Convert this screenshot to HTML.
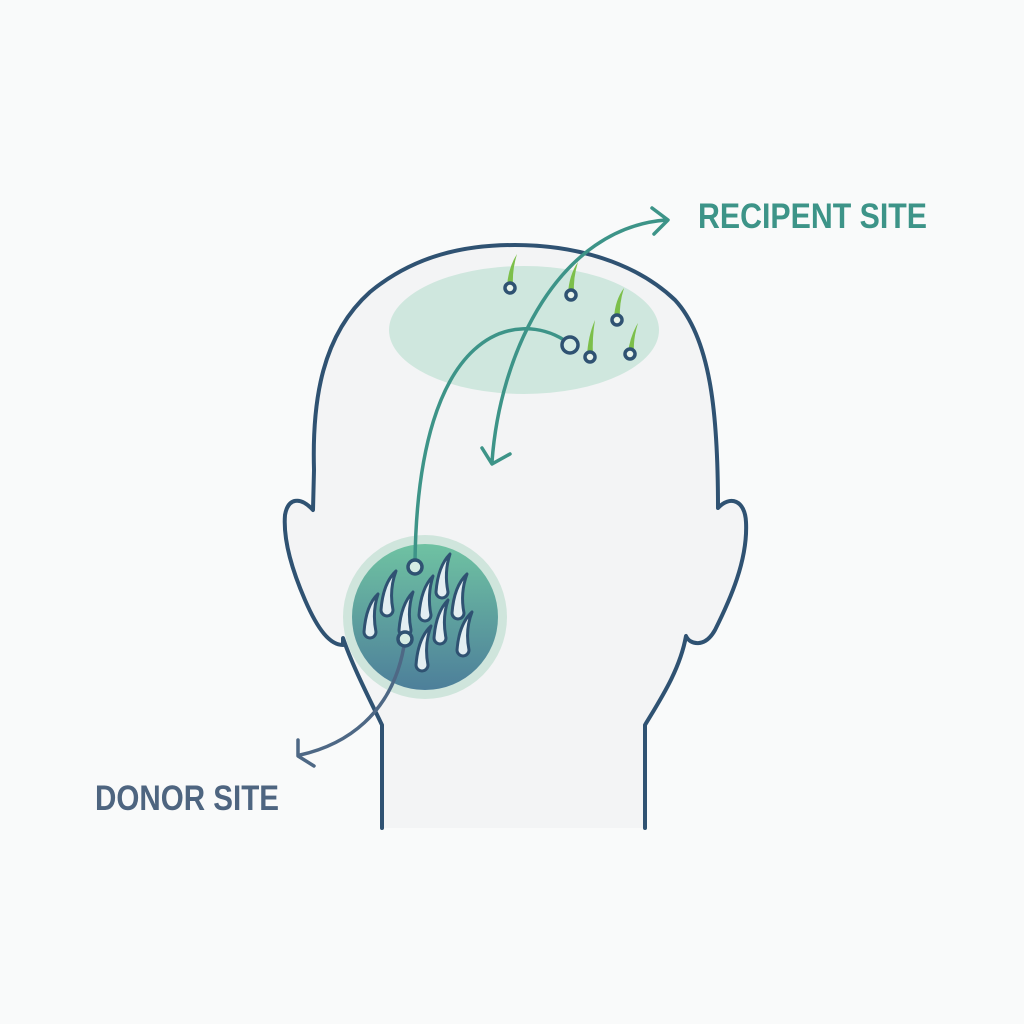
<!DOCTYPE html>
<html><head><meta charset="utf-8"><style>
html,body{margin:0;padding:0;background:#f9fafa}
svg{display:block}
</style></head><body>
<svg width="1024" height="1024" viewBox="0 0 1024 1024" xmlns="http://www.w3.org/2000/svg">
<defs>
<linearGradient id="dg" x1="0" y1="0" x2="0" y2="1">
<stop offset="0" stop-color="#6fc2a2"/><stop offset="1" stop-color="#4d7f9a"/>
</linearGradient>
</defs>
<rect width="1024" height="1024" fill="#f9fafa"/>
<!-- head -->
<path d="M382 828 L382 725 C370 700 352 665 343 638 L343 645 C330 645 318 630 305 600 C292 570 283 540 285 515 C288 498 300 496 313 510 L314 470 C312 400 322 335 370 292 C415 255 465 245 515 245 C575 245 635 262 675 300 C712 340 718 420 718 508 C730 495 745 500 746 522 C748 560 730 600 715 630 C705 648 690 645 686 636 C680 670 660 700 645 725 L645 828"
 fill="#f3f4f5" stroke="#2f5272" stroke-width="4" stroke-linejoin="round" stroke-linecap="round"/>
<!-- recipient ellipse -->
<ellipse cx="524" cy="330" rx="135" ry="64" fill="#cfe7de"/>
<!-- recipient hairs -->
<g stroke-linecap="round">
<g fill="#7cbf4a">
<path d="M507 287 Q508 268 517 254 Q512 270 513 287 Z"/>
<path d="M568 294 Q569 275 578 262 Q573 278 574 294 Z"/>
<path d="M614 318 Q615 300 624 288 Q619 304 620 318 Z"/>
<path d="M587 356 Q588 336 595 320 Q592 338 593 356 Z"/>
<path d="M628 353 Q630 336 638 323 Q633 339 634 353 Z"/>
</g>
<g fill="#e8f3ea" stroke="#2f5272" stroke-width="3.5">
<circle cx="510" cy="288" r="5"/><circle cx="571" cy="295" r="5"/><circle cx="617" cy="320" r="5"/>
<circle cx="590" cy="357" r="5"/><circle cx="630" cy="354" r="5"/>
</g>
</g>
<!-- donor circle -->
<circle cx="425" cy="617" r="82" fill="#cfe5dc"/>
<circle cx="425" cy="617" r="73" fill="url(#dg)"/>
<g fill="#e3eef2" stroke="#2f5272" stroke-width="3" stroke-linejoin="round">
<path d="M364 632 Q366 605 378 594 Q372 612 376 632 A6 6 0 0 1 364 632 Z"/>
<path d="M381 610 Q383 583 396 571 Q389 590 393 610 A6 6 0 0 1 381 610 Z"/>
<path d="M419 615 Q421 588 433 576 Q427 595 431 615 A6 6 0 0 1 419 615 Z"/>
<path d="M436 592 Q438 566 450 554 Q444 572 448 592 A6 6 0 0 1 436 592 Z"/>
<path d="M452 613 Q454 586 467 574 Q460 593 464 613 A6 6 0 0 1 452 613 Z"/>
<path d="M399 630 Q401 604 413 592 Q407 610 411 630 A6 6 0 0 1 399 630 Z"/>
<path d="M434 638 Q436 612 448 600 Q442 618 446 638 A6 6 0 0 1 434 638 Z"/>
<path d="M457 650 Q459 624 472 612 Q465 630 469 650 A6 6 0 0 1 457 650 Z"/>
<path d="M416 665 Q418 638 431 626 Q424 645 428 665 A6 6 0 0 1 416 665 Z"/>
</g>
<!-- connectors -->
<g fill="none" stroke-linecap="round" stroke-linejoin="round" stroke-width="3.5">
<path d="M492 462 C500 350 560 228 666 220" stroke="#3d9488"/>
<path d="M482 448 L492 464 L510 454" stroke="#3d9488"/>
<path d="M652 208 L668 220 L654 234" stroke="#3d9488"/>
<path d="M564 340 C520 312 418 320 415 562" stroke="#3d9488"/>
<path d="M404 646 C392 715 345 745 300 755" stroke="#4e6885"/>
<path d="M298 740 L298 756 L314 766" stroke="#4e6885"/>
</g>
<g fill="#d6ece4" stroke="#2f5272" stroke-width="3.5">
<circle cx="570" cy="345" r="8"/>
<circle cx="415" cy="567" r="7"/>
<circle cx="405" cy="639" r="7"/>
</g>
<!-- labels -->
<text x="698" y="228" font-family="Liberation Sans, sans-serif" font-weight="bold" font-size="35" fill="#3d9488" textLength="229" lengthAdjust="spacingAndGlyphs">RECIPENT SITE</text>
<text x="95" y="810" font-family="Liberation Sans, sans-serif" font-weight="bold" font-size="35" fill="#4e6580" textLength="184" lengthAdjust="spacingAndGlyphs">DONOR SITE</text>
</svg>
</body></html>
